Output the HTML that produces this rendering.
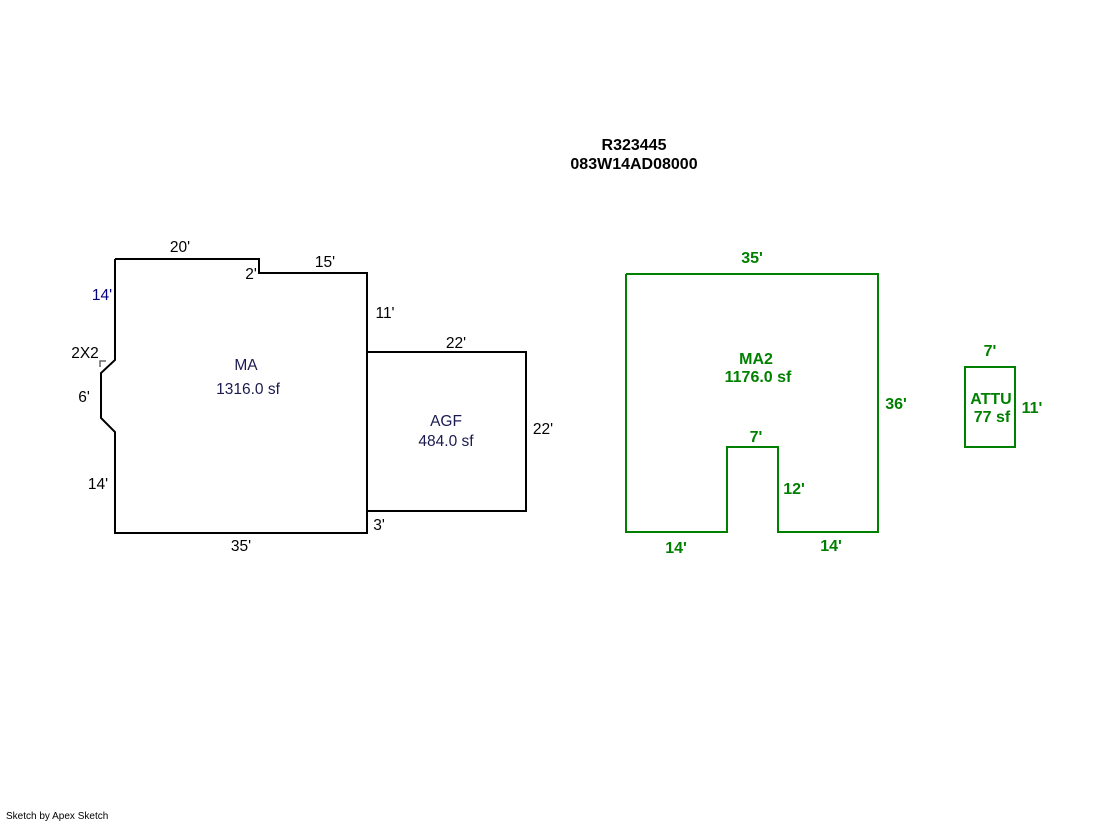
<!DOCTYPE html>
<html><head><meta charset="utf-8"><style>
body{margin:0;background:#fff;}
svg{display:block;}
text{font-family:"Liberation Sans",Arial,sans-serif;font-size:15.5px;}
.b{font-weight:bold;font-size:16px;}
.g{fill:#008000;font-weight:bold;font-size:16px;}
</style></head><body>
<svg width="1119" height="821" viewBox="0 0 1119 821" xmlns="http://www.w3.org/2000/svg">
<text x="634" y="150" text-anchor="middle" class="b" fill="#000">R323445</text>
<text x="634" y="169" text-anchor="middle" class="b" fill="#000">083W14AD08000</text>

<g fill="none" stroke="#000" stroke-width="2">
<polyline points="115,259 259,259 259,273 367,273 367,533 115,533 115,432 101,418 101,373 115,360 115,259"/>
<rect x="367" y="352" width="159" height="159"/>
</g>
<path d="M100,367 V361 H106" fill="none" stroke="#666" stroke-width="1.5"/>
<g fill="#000">
<text x="180" y="252" text-anchor="middle">20'</text>
<text x="251" y="279" text-anchor="middle">2'</text>
<text x="325" y="267" text-anchor="middle">15'</text>
<text x="102" y="300" text-anchor="middle" fill="#000080">14'</text>
<text x="385" y="318" text-anchor="middle">11'</text>
<text x="85" y="358" text-anchor="middle">2X2</text>
<text x="84" y="402" text-anchor="middle">6'</text>
<text x="98" y="489" text-anchor="middle">14'</text>
<text x="241" y="551" text-anchor="middle">35'</text>
<text x="379" y="530" text-anchor="middle">3'</text>
<text x="456" y="348" text-anchor="middle">22'</text>
<text x="543" y="434" text-anchor="middle">22'</text>
<text x="246" y="370" text-anchor="middle" fill="#1a1a50">MA</text>
<text x="248" y="394" text-anchor="middle" fill="#1a1a50">1316.0 sf</text>
<text x="446" y="426" text-anchor="middle" fill="#1a1a50">AGF</text>
<text x="446" y="446" text-anchor="middle" fill="#1a1a50">484.0 sf</text>
</g>

<g fill="none" stroke="#008000" stroke-width="2">
<polyline points="626,274 878,274 878,532 778,532 778,447 727,447 727,532 626,532 626,274"/>
<rect x="965" y="367" width="50" height="80"/>
</g>
<text x="752" y="263" text-anchor="middle" class="g">35'</text>
<text x="756" y="364" text-anchor="middle" class="g">MA2</text>
<text x="758" y="382" text-anchor="middle" class="g">1176.0 sf</text>
<text x="896" y="409" text-anchor="middle" class="g">36'</text>
<text x="756" y="442" text-anchor="middle" class="g">7'</text>
<text x="794" y="494" text-anchor="middle" class="g">12'</text>
<text x="676" y="553" text-anchor="middle" class="g">14'</text>
<text x="831" y="551" text-anchor="middle" class="g">14'</text>
<text x="990" y="356" text-anchor="middle" class="g">7'</text>
<text x="991" y="404" text-anchor="middle" class="g">ATTU</text>
<text x="992" y="422" text-anchor="middle" class="g">77 sf</text>
<text x="1032" y="413" text-anchor="middle" class="g">11'</text>

<text x="6" y="819" style="font-size:10px" fill="#000">Sketch by Apex Sketch</text>
</svg>
</body></html>
